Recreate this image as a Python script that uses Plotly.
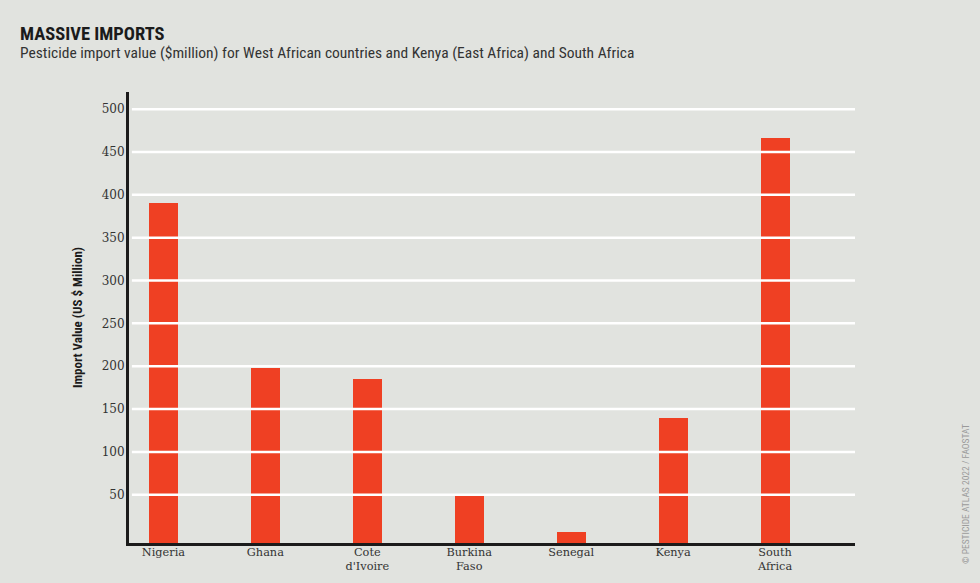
import plotly.graph_objects as go

categories = ["Nigeria", "Ghana", "Cote<br>d'Ivoire", "Burkina<br>Faso", "Senegal", "Kenya", "South<br>Africa"]
values = [390, 198, 185, 48, 6, 140, 466]
y_ticks = [50, 100, 150, 200, 250, 300, 350, 400, 450, 500]

Y_MIN = -6.3
Y_MAX = 520
BG = "#e1e3df"
RED = "#ef4023"
NARROW = "Liberation Sans Narrow, Roboto Condensed, Arial Narrow, sans-serif"
SERIF = "DejaVu Serif, Liberation Serif, serif"

PLOT_W = 980 - 129 - 125
PLOT_H = 583 - 92 - 40

fig = go.Figure()
fig.add_trace(go.Bar(
    x=list(range(len(categories))),
    y=[v - Y_MIN for v in values],
    base=Y_MIN,
    width=0.284,
    marker=dict(color=RED, line=dict(width=0)),
    customdata=values,
    hovertemplate="%{customdata}<extra></extra>",
))

shapes = []
for t in y_ticks:
    shapes.append(dict(type="line", xref="paper", yref="y", x0=0.004, x1=1, y0=t, y1=t,
                       line=dict(color="white", width=2.5), layer="above"))

fig.update_layout(
    width=980, height=583,
    paper_bgcolor=BG, plot_bgcolor=BG,
    margin=dict(l=129, r=125, t=92, b=40),
    showlegend=False,
    bargap=0,
    shapes=shapes,
    xaxis=dict(
        tickmode="array", tickvals=list(range(len(categories))), ticktext=categories,
        range=[-0.3375, 6.784],
        showgrid=False, zeroline=False,
        showline=True, linecolor="#1b1b1b", linewidth=3,
        ticks="", ticklabelstandoff=-4,
        tickfont=dict(family=SERIF, size=11.3, color="#333333"),
        automargin=False,
        fixedrange=True,
    ),
    yaxis=dict(
        range=[Y_MIN, Y_MAX],
        tickmode="array", tickvals=y_ticks,
        showgrid=False, zeroline=False,
        showline=True, linecolor="#1b1b1b", linewidth=3,
        ticks="", ticklabelstandoff=-1,
        tickfont=dict(family=SERIF, size=12, color="#333333"),
        title=dict(text="<b>Import Value (US $ Million)</b>", standoff=17,
                   font=dict(family=NARROW, size=13, color="#1b1b1b")),
        automargin=False,
        fixedrange=True,
    ),
    annotations=[
        dict(text="<b>MASSIVE IMPORTS</b>", xref="paper", yref="paper", x=(18-129)/PLOT_W, y=1 + (92-34)/PLOT_H,
             xanchor="left", yanchor="middle", showarrow=False,
             font=dict(family=NARROW, size=18.5, color="#1b1b1b")),
        dict(text="Pesticide import value ($million) for West African countries and Kenya (East Africa) and South Africa",
             xref="paper", yref="paper", x=(18-129)/PLOT_W, y=1 + (92-53)/PLOT_H,
             xanchor="left", yanchor="middle", showarrow=False,
             font=dict(family=NARROW, size=15.5, color="#333333")),
        dict(text="© PESTICIDE ATLAS 2022 / FAOSTAT", xref="paper", yref="paper",
             x=(965-129)/PLOT_W, y=1 - (494-92)/PLOT_H, textangle=-90,
             xanchor="center", yanchor="middle", showarrow=False,
             font=dict(family=NARROW, size=9.5, color="#9a9a9a")),
    ],
)

fig.write_html("out.html")
